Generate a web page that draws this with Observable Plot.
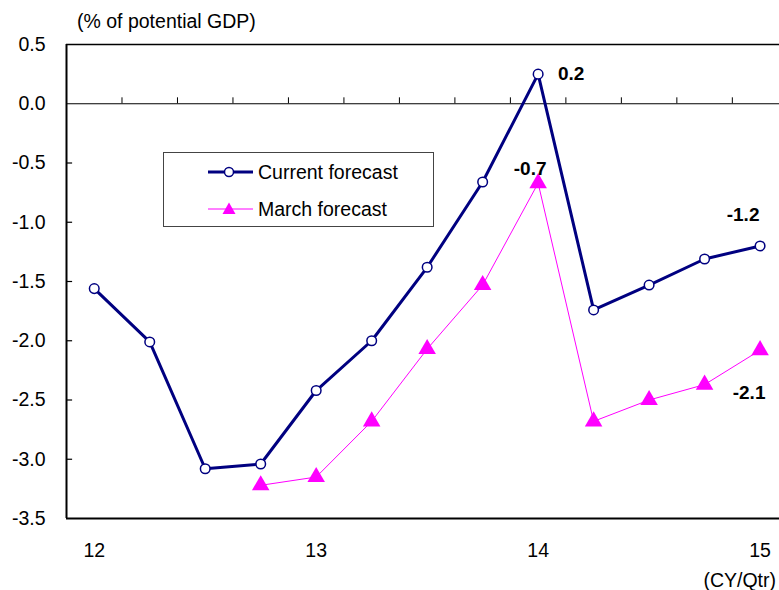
<!DOCTYPE html>
<html>
<head>
<meta charset="utf-8">
<script src="https://cdn.jsdelivr.net/npm/d3@7"></script>
<script src="https://cdn.jsdelivr.net/npm/@observablehq/plot@0.6"></script>
<style>
  html, body { margin: 0; padding: 0; background: #fff; }
  #wrap { position: relative; width: 779px; height: 590px; font-family: "Liberation Sans", Arial, sans-serif; }
  #wrap > svg { position: absolute; left: 0; top: 0; }
  .ann { position: absolute; font-size: 19.5px; line-height: 20px; color: #000; white-space: nowrap; }
  #legend { position: absolute; left: 163px; top: 152px; width: 269px; height: 73px; border: 1px solid #444; background: #fff; }
  .lrow { position: absolute; left: 44px; height: 20px; display: flex; align-items: center; font-size: 19.5px; }
  .lrow svg { display: block; margin-right: 5px; }
</style>
</head>
<body>
<div id="wrap">
  <div class="ann" style="left:77px; top:11px;">(% of potential GDP)</div>
  <div class="ann" style="right:3px; top:570px;">(CY/Qtr)</div>
  <div id="legend">
    <div class="lrow" style="top:9px;">
      <svg width="45" height="20"><line x1="0" y1="10" x2="45" y2="10" stroke="#000080" stroke-width="3"/><circle cx="21" cy="10" r="4.5" fill="#fff" stroke="#000080" stroke-width="1.5"/></svg>
      <span>Current forecast</span>
    </div>
    <div class="lrow" style="top:46px;">
      <svg width="45" height="20"><line x1="0" y1="10" x2="45" y2="10" stroke="#ff00ff" stroke-width="1"/><path d="M21,3.5 L27.5,15 L14.5,15 Z" fill="#ff00ff"/></svg>
      <span>March forecast</span>
    </div>
  </div>
</div>
<script>
// Quarters (index 0 = 2012 Q1)
const quarters = ["12Q1","12Q2","12Q3","12Q4","13Q1","13Q2","13Q3","13Q4","14Q1","14Q2","14Q3","14Q4","15Q1"];
const currentForecast = [-1.56, -2.01, -3.08, -3.04, -2.42, -2.00, -1.38, -0.66, 0.25, -1.74, -1.53, -1.31, -1.20];
const marchForecast  = [null, null, null, -3.22, -3.15, -2.68, -2.07, -1.53, -0.67, -2.68, -2.50, -2.37, -2.08];
const xTickIndex = [0, 4, 8, 12];
const xTickLabels = ["12", "13", "14", "15"];
const yTicks = [0.5, 0, -0.5, -1, -1.5, -2, -2.5, -3, -3.5];
// labelled points: series, quarter index, text
const annotations = [
  {series: "current", i: 8, text: "0.2"},
  {series: "march", i: 8, text: "-0.7"},
  {series: "current", i: 12, text: "-1.2"},
  {series: "march", i: 12, text: "-2.1"}
];

const cur = quarters.map((q, i) => ({i, v: currentForecast[i]}));
const mar = quarters.map((q, i) => ({i, v: marchForecast[i]})).filter(d => d.v != null);
const boundaries = quarters.slice(1).map((q, i) => i + 0.5);

const annOffsets = {
  "current-8": {dx: 33, dy: 0},
  "march-8": {dx: -8, dy: -14},
  "current-12": {dx: -17, dy: -31},
  "march-12": {dx: -11, dy: 43}
};
const annMarks = annotations.map(a => {
  const v = a.series === "current" ? currentForecast[a.i] : marchForecast[a.i];
  const o = annOffsets[a.series + "-" + a.i];
  return Plot.text([{i: a.i, v, text: a.text}], {x: "i", y: "v", text: "text", dx: o.dx, dy: o.dy,
    fontWeight: "bold", fontSize: 19, fill: "#000", textAnchor: "middle"});
});

const chart = Plot.plot({
  width: 779,
  height: 590,
  marginLeft: 66,
  marginRight: 0,
  marginTop: 44,
  marginBottom: 72,
  style: {fontFamily: "Liberation Sans, Arial, sans-serif", fontSize: "19.5px", background: "transparent", color: "#000"},
  x: {domain: [-0.5, 12.35], axis: null},
  y: {domain: [-3.5, 0.5], axis: null},
  marks: [
    // frame lines
    Plot.ruleY([0.5], {stroke: "#000", strokeWidth: 1.5}),
    Plot.ruleY([-3.5], {stroke: "#000", strokeWidth: 2}),
    Plot.ruleY([0], {stroke: "#000", strokeWidth: 1}),
    Plot.ruleX([-0.5], {stroke: "#000", strokeWidth: 2}),
    // inward y ticks
    Plot.ruleY(yTicks.slice(2, -1), {y: d => d, x1: -0.5, x2: -0.39, stroke: "#000", strokeWidth: 1.2}),
    // ticks on the zero line at quarter boundaries
    Plot.ruleX(boundaries, {x: d => d, y1: 0, y2: 0.05, stroke: "#000", strokeWidth: 1}),
    // y tick labels
    Plot.axisY(yTicks, {tickSize: 0, tickPadding: 21, tickFormat: d => d.toFixed(1), fontSize: 19.5, label: null}),
    // x tick labels
    Plot.axisX(xTickIndex, {tickSize: 0, tickPadding: 25, tickFormat: (d, k) => xTickLabels[k], fontSize: 19.5, label: null}),
    // series
    Plot.line(mar, {x: "i", y: "v", stroke: "#ff00ff", strokeWidth: 1}),
    Plot.dot(mar, {x: "i", y: "v", symbol: "triangle", r: 6.5, fill: "#ff00ff", stroke: "none"}),
    Plot.line(cur, {x: "i", y: "v", stroke: "#000080", strokeWidth: 3}),
    Plot.dot(cur, {x: "i", y: "v", symbol: "circle", r: 4.8, fill: "#fff", stroke: "#000080", strokeWidth: 1.5}),
    ...annMarks
  ]
});
document.getElementById("wrap").prepend(chart);
</script>
</body>
</html>
